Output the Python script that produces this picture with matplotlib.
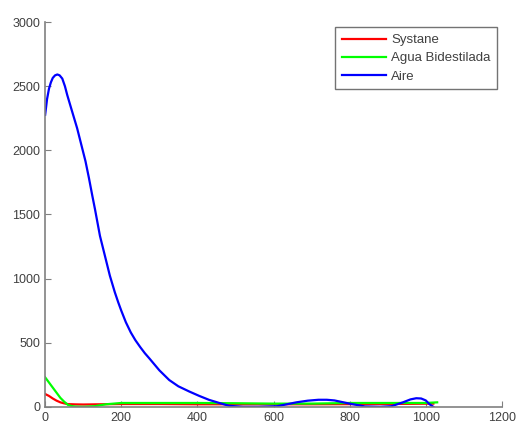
import matplotlib
matplotlib.use("Agg")
import matplotlib.pyplot as plt

plt.rcParams['font.family'] = ['Liberation Sans', 'DejaVu Sans']

# Systane
sys_x = [0, 10, 20, 30, 40, 50, 60, 80, 100, 200, 300, 400, 500, 600, 700, 800, 900, 1020]
sys_y = [100, 85, 65, 48, 35, 27, 21, 19, 18, 22, 22, 20, 20, 20, 20, 21, 22, 25]

# Agua Bidestilada
agua_x = [0, 10, 20, 30, 40, 50, 60, 70, 80, 100, 130, 160, 200, 300, 400, 500, 600, 700, 800, 900, 1000, 1030]
agua_y = [230, 190, 150, 110, 70, 40, 15, 6, 2, 0, 5, 20, 30, 30, 30, 28, 25, 25, 30, 30, 30, 35]

# Aire
aire_x = [0, 5, 10, 15, 20, 26, 32, 38, 45, 52, 58, 71, 84, 95, 106, 115, 124, 131, 144, 157,
          170, 183, 192, 200, 212, 225, 237, 250, 262, 274, 300, 326, 350, 379, 405, 431, 460,
          483, 520, 560, 610, 660, 690, 718, 740, 760, 800, 840, 880, 910, 940, 960, 975, 988,
          1000, 1010, 1020]
aire_y = [2277, 2400, 2480, 2530, 2565, 2585, 2592, 2585, 2560, 2500, 2432, 2302, 2173, 2044,
          1915, 1785, 1645, 1540, 1333, 1178, 1023, 894, 815, 750, 660, 580, 520, 465, 418, 377,
          285, 209, 160, 119, 85, 54, 28, 8, 0, 0, 5, 35, 48, 55, 55, 50, 25, 3, 0, 5, 35,
          58, 67, 65, 50, 20, 0]

fig = plt.figure(figsize=(5.19, 4.26), dpi=100)
ax = fig.add_axes([0.087, 0.045, 0.880, 0.903])

ax.plot(sys_x, sys_y, color=(1, 0, 0), lw=1.6, label='Systane')
ax.plot(agua_x, agua_y, color=(0, 1, 0), lw=1.6, label='Agua Bidestilada')
ax.plot(aire_x, aire_y, color=(0, 0, 1), lw=1.6, label='Aire')

ax.set_xlim(0, 1200)
ax.set_ylim(0, 3000)
ax.set_xticks(range(0, 1201, 200))
ax.set_yticks(range(0, 3001, 500))

for s in ['top', 'right']:
    ax.spines[s].set_visible(False)
for s in ['left', 'bottom']:
    ax.spines[s].set_color('#808080')
    ax.spines[s].set_linewidth(1.2)
ax.tick_params(direction='in', length=4, color='#808080', labelsize=9, labelcolor='#404040')

leg = ax.legend(loc='upper right', bbox_to_anchor=(0.9895, 0.9865), borderaxespad=0,
                fontsize=9.5, frameon=True, fancybox=False, edgecolor='#505050',
                handlelength=3.4, borderpad=0.5, labelspacing=0.45, handletextpad=0.35)
leg.get_frame().set_linewidth(1.0)
for t in leg.get_texts():
    t.set_color('#404040')

fig.savefig('out.png', dpi=100)
